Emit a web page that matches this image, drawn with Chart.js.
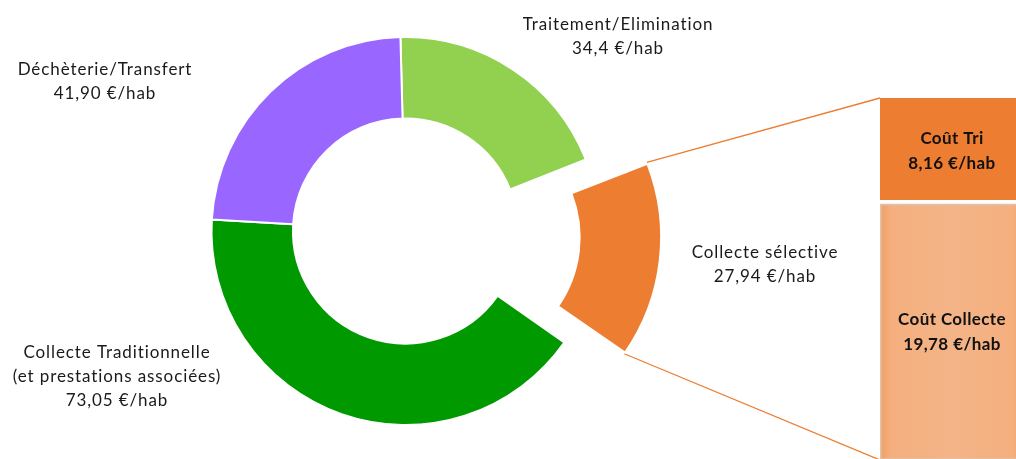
<!DOCTYPE html>
<html>
<head>
<meta charset="utf-8">
<script src="https://cdn.jsdelivr.net/npm/chart.js@4/dist/chart.umd.min.js"></script>
<style>
  html, body { margin: 0; padding: 0; background: #fff; overflow: hidden; width: 1016px; height: 459px; }
  #donut { position: absolute; left: 0; top: 0; }
  #bar { position: absolute; left: 870px; top: 0; }
</style>
</head>
<body>
<canvas id="donut" width="1016" height="459"></canvas>
<canvas id="bar" width="160" height="470"></canvas>
<script>
// pie data (€/hab)
const categories = ['Traitement/Elimination', 'Collecte sélective', 'Collecte Traditionnelle\n(et prestations associées)', 'Déchèterie/Transfert'];
const values = [34.4, 27.94, 73.05, 41.90];
const valueTexts = ['34,4 €/hab', '27,94 €/hab', '73,05 €/hab', '41,90 €/hab'];
const colors = ['#92D050', '#ED7D31', '#009900', '#9966FF'];

// detail of "Collecte sélective"
const detailLabels = ['Coût Collecte', 'Coût Tri'];
const detailValues = [19.78, 8.16];
const detailTexts = ['19,78 €/hab', '8,16 €/hab'];

const FONT = 'Lato, "Open Sans", sans-serif';

// ---- stacked bar on the right ----
const barCtx = document.getElementById('bar').getContext('2d');

const collecteFill = (c) => {
	const area = c.chart.chartArea;
	if (!area) return '#F4B183';
	const g = c.chart.ctx.createLinearGradient(area.left, 0, area.right, 0);
	g.addColorStop(0, '#F09E64');
	g.addColorStop(0.08, '#F5AF7F');
	g.addColorStop(0.5, '#F3B487');
	g.addColorStop(0.92, '#F5AF7F');
	g.addColorStop(1, '#F09E64');
	return g;
};

const barText = {
	id: 'barText',
	afterDatasetsDraw(chart) {
		const ctx = chart.ctx;
		ctx.save();
		ctx.fillStyle = '#111';
		ctx.font = 'bold 17px ' + FONT;
		ctx.letterSpacing = '0.4px';
		ctx.textAlign = 'center';
		ctx.textBaseline = 'middle';
		chart.data.datasets.forEach((ds, i) => {
			const el = chart.getDatasetMeta(i).data[0];
			const cy = (el.y + el.base) / 2;
			ctx.fillText(ds.label, el.x, cy - 12);
			ctx.fillText(detailTexts[i], el.x, cy + 13);
		});
		ctx.restore();
	}
};

const barChart = new Chart(barCtx, {
	type: 'bar',
	data: {
		labels: ['Collecte sélective'],
		datasets: [
			{
				label: detailLabels[0],
				data: [detailValues[0]],
				backgroundColor: collecteFill,
				borderColor: 'rgba(200,140,100,0.55)',
				borderWidth: 2,
				borderSkipped: false,
				barPercentage: 1,
				categoryPercentage: 1
			},
			{
				label: detailLabels[1],
				data: [detailValues[1]],
				backgroundColor: '#ED7D31',
				borderColor: '#fff',
				borderWidth: { top: 0, left: 0, right: 0, bottom: 4 },
				borderSkipped: false,
				barPercentage: 1,
				categoryPercentage: 1
			}
		]
	},
	options: {
		responsive: false,
		animation: false,
		layout: { padding: { left: 10, right: 6, top: 98, bottom: 10 } },
		plugins: { legend: { display: false }, tooltip: { enabled: false } },
		scales: {
			x: { stacked: true, display: false },
			y: { stacked: true, display: false, min: 0, max: 27.94 }
		}
	},
	plugins: [barText]
});

// ---- doughnut ----
const labelAnchors = [[618, 37], [765, 265], [117, 377], [105, 82]];

const donutLabels = {
	id: 'donutLabels',
	afterDatasetsDraw(chart) {
		const ctx = chart.ctx;
		ctx.save();
		ctx.fillStyle = '#1a1a1a';
		ctx.font = '17px ' + FONT;
		ctx.letterSpacing = '0.9px';
		ctx.textAlign = 'center';
		ctx.textBaseline = 'middle';
		const lh = 24;
		categories.forEach((cat, i) => {
			const lines = cat.split('\n').concat([valueTexts[i]]);
			const [ax, ay] = labelAnchors[i];
			const y0 = ay - (lines.length - 1) * lh / 2;
			lines.forEach((t, k) => ctx.fillText(t, ax, y0 + k * lh));
		});
		ctx.restore();
	}
};

// connector lines from the exploded slice to the bar
const connectors = {
	id: 'connectors',
	beforeDatasetsDraw(chart) {
		const arc = chart.getDatasetMeta(0).data[1];
		const off = (arc.options.offset || 0) / 4;
		const half = (arc.startAngle + arc.endAngle) / 2;
		const fix = 1 - Math.sin(Math.min(Math.PI, arc.circumference));
		const cx = arc.x + Math.cos(half) * off;
		const cy = arc.y + Math.sin(half) * off;
		const r = arc.outerRadius + off * fix;
		const p1 = [cx + Math.cos(arc.startAngle) * r, cy + Math.sin(arc.startAngle) * r];
		const p2 = [cx + Math.cos(arc.endAngle) * r, cy + Math.sin(arc.endAngle) * r];

		const barBox = document.getElementById('bar');
		const dx = barBox.offsetLeft, dy = barBox.offsetTop;
		const top = barChart.getDatasetMeta(1).data[0];
		const bottom = barChart.getDatasetMeta(0).data[0];
		const left = top.x - top.width / 2 + dx;

		const ctx = chart.ctx;
		ctx.save();
		ctx.strokeStyle = '#ED7D31';
		ctx.lineWidth = 1.3;
		ctx.beginPath();
		ctx.moveTo(p1[0], p1[1]);
		ctx.lineTo(left, top.y + dy);
		ctx.moveTo(p2[0], p2[1]);
		ctx.lineTo(left, bottom.base + dy);
		ctx.stroke();
		ctx.restore();
	}
};

new Chart(document.getElementById('donut').getContext('2d'), {
	type: 'doughnut',
	data: {
		labels: categories,
		datasets: [{
			data: values,
			backgroundColor: colors,
			borderColor: '#fff',
			borderWidth: 2,
			offset: [0, 213, 0, 0]
		}]
	},
	options: {
		responsive: false,
		animation: false,
		radius: 194,
		cutout: '58%',
		rotation: -1.5,
		layout: { padding: { left: 0, right: 205, top: 3, bottom: 0 } },
		plugins: { legend: { display: false }, tooltip: { enabled: false } }
	},
	plugins: [connectors, donutLabels]
});
</script>
</body>
</html>
